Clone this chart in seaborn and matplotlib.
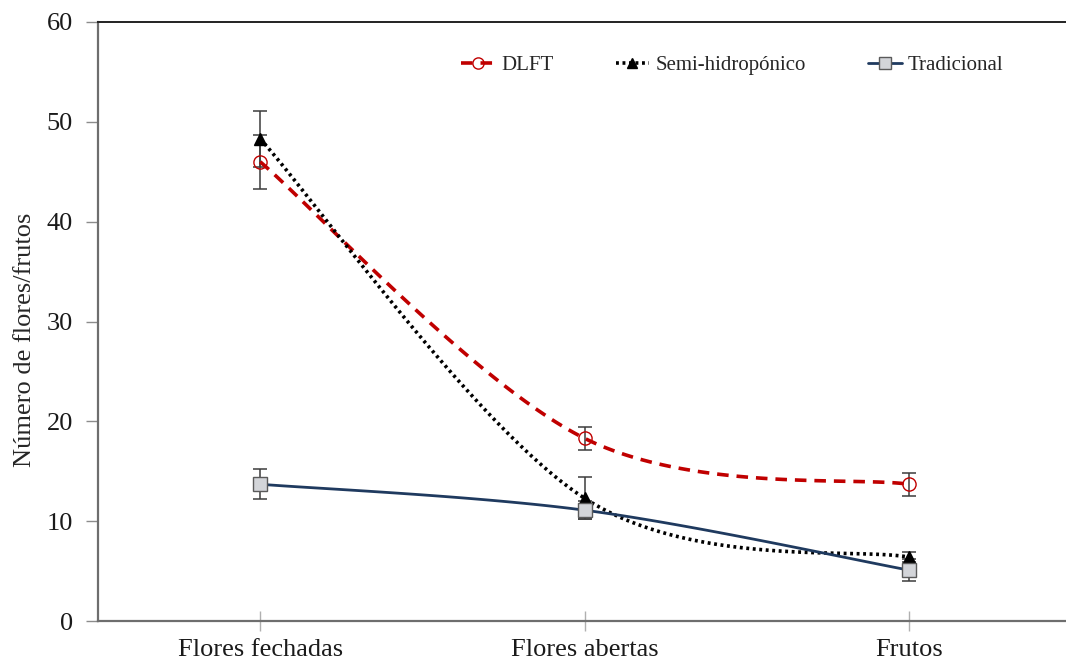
import numpy as np
import pandas as pd
import matplotlib
matplotlib.use("Agg")
import matplotlib.pyplot as plt
from matplotlib.lines import Line2D
import seaborn as sns

# --- data -------------------------------------------------------------
categories = ["Flores fechadas", "Flores abertas", "Frutos"]
dlft = [46.0, 18.3, 13.7]
dlft_err = [2.7, 1.15, 1.15]
semi = [48.3, 12.3, 6.4]
semi_err = [2.8, 2.1, 0.5]
trad = [13.7, 11.1, 5.1]
trad_err = [1.5, 0.9, 1.1]
series_names = ["DLFT", "Semi-hidropónico", "Tradicional"]
y_ticks = [0, 10, 20, 30, 40, 50, 60]

sns.set_theme(style="white")
plt.rcParams["font.family"] = ["Liberation Serif", "DejaVu Serif"]


def smooth(xs, ys, n=60):
    """Cubic Bezier smoothing through points (Catmull-Rom style control points)."""
    P = np.column_stack([xs, ys]).astype(float)
    P = np.vstack([P[0], P, P[-1]])
    out = []
    for i in range(1, len(P) - 2):
        p0, p1, p2, p3 = P[i - 1], P[i], P[i + 1], P[i + 2]
        c1 = p1 + (p2 - p0) / 6.0
        c2 = p2 - (p3 - p1) / 6.0
        t = np.linspace(0, 1, n)[:, None]
        seg = ((1 - t) ** 3) * p1 + 3 * ((1 - t) ** 2) * t * c1 + 3 * (1 - t) * t ** 2 * c2 + t ** 3 * p2
        out.append(seg if i == 1 else seg[1:])
    seg = np.vstack(out)
    return seg[:, 0], seg[:, 1]


fig = plt.figure(figsize=(10.66, 6.64), dpi=100)
ax = fig.add_axes([98 / 1066, 43 / 664, (1071 - 98) / 1066, (621 - 22) / 664])

x = np.arange(len(categories))
styles = {
    "DLFT": dict(values=dlft, err=dlft_err, color="#C00000", ls=(0, (3.2, 2.2)), lw=2.6,
                 marker="o", mfc="none", mec="#C00000", ms=9.5, mew=1.0),
    "Semi-hidropónico": dict(values=semi, err=semi_err, color="#000000", ls=(0, (0.8, 1.0)), lw=2.6,
                             marker="^", mfc="#000000", mec="#000000", ms=9, mew=1.0),
    "Tradicional": dict(values=trad, err=trad_err, color="#1F3A5F", ls="-", lw=2.0,
                        marker="s", mfc="#D3D5D9", mec="#5A5A5A", ms=9.5, mew=1.0),
}

handles = []
for name in series_names:
    st = styles[name]
    sx, sy = smooth(x, st["values"])
    df = pd.DataFrame({"x": sx, "y": sy})
    sns.lineplot(data=df, x="x", y="y", ax=ax, sort=False, color=st["color"],
                 lw=st["lw"], linestyle=st["ls"], zorder=3)
    ax.errorbar(x, st["values"], yerr=st["err"], fmt="none", ecolor="#3C3C3C",
                elinewidth=1.1, capsize=5, capthick=1.1, zorder=2)
    pts = pd.DataFrame({"x": x, "y": st["values"]})
    ax.plot(pts["x"], pts["y"], ls="none", marker=st["marker"], ms=st["ms"],
            mfc=st["mfc"], mec=st["mec"], mew=st["mew"], zorder=4)
    handles.append(Line2D([], [], color=st["color"], ls=st["ls"], lw=st["lw"],
                          marker=st["marker"], ms=st["ms"] * 0.85, mfc=st["mfc"],
                          mec=st["mec"], mew=st["mew"]))

ax.set_xlim(-0.5, 2.5)
ax.set_ylim(0, 60)
ax.set_yticks(y_ticks)
ax.set_xticks(x)
ax.set_xticklabels(categories)
ax.set_xlabel("")
ax.set_ylabel("Número de flores/frutos", fontsize=19)
ax.yaxis.set_label_coords(-0.064, 0.469)

for side in ["left", "bottom"]:
    ax.spines[side].set_color("#6E6E6E")
    ax.spines[side].set_linewidth(1.6)
ax.spines["top"].set_color("#222222")
ax.spines["top"].set_linewidth(1.4)
ax.spines["right"].set_visible(False)

ax.tick_params(axis="y", which="major", left=True, direction="out", length=9,
               width=1.0, color="#8C8C8C", labelsize=19, pad=9, labelcolor="#1a1a1a")
ax.tick_params(axis="x", which="major", bottom=True, direction="inout", length=14,
               width=1.0, color="#B0B0B0", labelsize=19, pad=6, labelcolor="#1a1a1a")

ax.legend(handles, series_names, ncol=3, frameon=False, loc="center",
          bbox_to_anchor=(0.652, 0.928), fontsize=15, handlelength=1.6,
          handletextpad=0.3, columnspacing=3.0)

fig.savefig("out.png", dpi=100)
